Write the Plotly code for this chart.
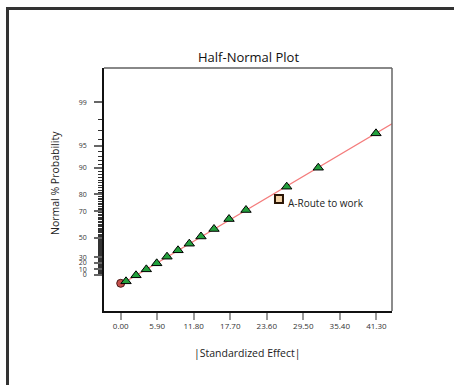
import numpy as np
import plotly.graph_objects as go
from statistics import NormalDist

# ---- data ----
effect_names = ["Error", "e1", "e2", "e3", "e4", "e5", "e6", "e7", "e8", "e9", "e10", "e11",
                "A-Route to work", "e12", "e13", "e14"]
effect_abs = [0.0, 0.86, 2.47, 4.14, 5.82, 7.48, 9.26, 11.08, 12.97, 15.07, 17.5, 20.24,
              25.57, 26.82, 31.92, 41.24]
halfnormal_z = [0.091, 0.118, 0.201, 0.283, 0.366, 0.457, 0.545, 0.636, 0.735, 0.838, 0.975,
                1.099, 1.251, 1.420, 1.681, 2.154]
point_kind = ["error"] + ["tri"] * 11 + ["sel"] + ["tri"] * 3

line_x = [0.0, 43.83]
line_z = [0.075, 2.285]

x_ticks = [0.0, 5.9, 11.8, 17.7, 23.6, 29.5, 35.4, 41.3]
y_tick_labels = ["0", "10", "20", "30", "50", "70", "80", "90", "95", "99"]
y_tick_pct = [0, 10, 20, 30, 50, 70, 80, 90, 95, 99]
y_tick_z = [0.205, 0.287, 0.370, 0.448, 0.718, 1.085, 1.315, 1.681, 1.984, 2.581]

nd = NormalDist()
def hq(p):
    return nd.inv_cdf(0.5 + p / 200.0)
major_true = [hq(p) for p in y_tick_pct]
minor_pct = [p for p in range(1, 99) if p not in y_tick_pct]
minor_z = list(np.interp([hq(p) for p in minor_pct], major_true, y_tick_z))

FONT = "Open Sans"
fig = go.Figure()

fig.add_trace(go.Scatter(x=line_x, y=line_z, mode="lines",
                         line=dict(color="#f47c7c", width=1.3), hoverinfo="skip",
                         showlegend=False))

def sub(kind):
    xs = [x for x, k in zip(effect_abs, point_kind) if k == kind]
    ys = [y for y, k in zip(halfnormal_z, point_kind) if k == kind]
    ns = [n for n, k in zip(effect_names, point_kind) if k == kind]
    return xs, ys, ns

xs, ys, ns = sub("error")
fig.add_trace(go.Scatter(x=xs, y=ys, text=ns, mode="markers", showlegend=False,
                         marker=dict(symbol="circle", size=8, color="#c4504c",
                                     line=dict(color="#4a1a18", width=1))))
xs, ys, ns = sub("tri")
fig.add_trace(go.Scatter(x=xs, y=ys, text=ns, mode="markers", showlegend=False,
                         marker=dict(symbol="triangle-up", size=9, color="#23a03c",
                                     line=dict(color="#000000", width=1))))
xs, ys, ns = sub("sel")
fig.add_trace(go.Scatter(x=xs, y=ys, text=ns, mode="markers", showlegend=False,
                         marker=dict(symbol="square", size=8, color="#f3d3a8",
                                     line=dict(color="#2a1505", width=2))))
fig.add_annotation(x=xs[0], y=ys[0], text=ns[0], showarrow=False, xanchor="left",
                   yanchor="middle", xshift=7, yshift=-4,
                   font=dict(family=FONT, size=10, color="#222"))

L, R, T, B = 104, 392, 68, 311
W, H = 455, 385
def px(x):
    return (x - L) / (R - L)
def py(y):
    return (B - y) / (B - T)

fig.update_layout(
    width=W, height=H,
    margin=dict(l=L, r=W - R, t=T, b=H - B),
    paper_bgcolor="white", plot_bgcolor="white",
    font=dict(family=FONT, color="#333"),
    xaxis=dict(range=[-2.7, 43.83], tickmode="array", tickvals=x_ticks,
               ticktext=[f"{v:.2f}" for v in x_ticks],
               ticks="outside", ticklen=7, tickwidth=2, tickcolor="#999",
               showline=True, linecolor="#111", linewidth=1.5,
               showgrid=False, zeroline=False,
               tickfont=dict(size=8, color="#333")),
    yaxis=dict(range=[-0.290, 3.053], tickmode="array", tickvals=y_tick_z,
               ticktext=y_tick_labels,
               ticks="outside", ticklen=8, tickwidth=1.5, tickcolor="#666",
               ticklabelstandoff=6,
               showline=True, linecolor="#111", linewidth=1.5,
               showgrid=False, zeroline=False,
               tickfont=dict(size=7, color="#333"),
               minor=dict(tickmode="array", tickvals=minor_z, ticks="outside",
                          ticklen=4, tickwidth=1, tickcolor="#333", showgrid=False)),
)

# outer frame (left + top) as one path
fx0, fy0, fx1, fyt = px(7.5), py(390), px(454), py(8.5)
fig.add_shape(type="path", xref="paper", yref="paper",
              path=f"M {fx0},{fy0} L {fx0},{fyt} L {fx1},{fyt}",
              line=dict(color="#333", width=3), layer="above")
# plot box top/right
fig.add_shape(type="line", xref="paper", yref="paper", x0=0, x1=1,
              y0=1, y1=1, line=dict(color="#888", width=2))
fig.add_shape(type="line", xref="paper", yref="paper", x0=1, x1=1,
              y0=0, y1=1, line=dict(color="#666", width=1.5))

fig.add_annotation(xref="paper", yref="paper", x=px(248), y=py(57), text="Half-Normal Plot",
                   showarrow=False, xanchor="center", yanchor="middle",
                   font=dict(family=FONT, size=13, color="#111"))
fig.add_annotation(xref="paper", yref="paper", x=px(55), y=py(183), text="Normal % Probability",
                   showarrow=False, textangle=-90, xanchor="center", yanchor="middle",
                   font=dict(family=FONT, size=10.5, color="#222"))
fig.add_annotation(xref="paper", yref="paper", x=px(247), y=py(353), text="|Standardized Effect|",
                   showarrow=False, xanchor="center", yanchor="middle",
                   font=dict(family=FONT, size=10.5, color="#222"))

fig.write_html("out.html", config={"displayModeBar": False},
               post_script="document.body.style.margin='0px';document.body.style.overflow='hidden';")
